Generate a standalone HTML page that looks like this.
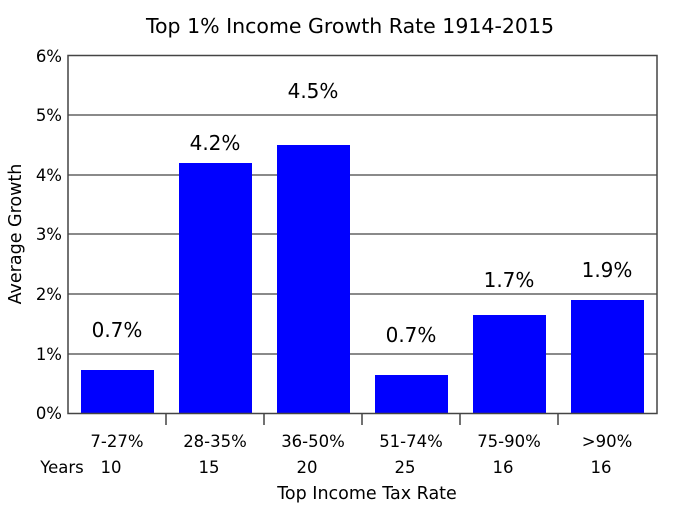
<!DOCTYPE html>
<html><head><meta charset="utf-8"><style>body{margin:0;background:#fff}</style></head><body>
<svg width="683" height="512" xmlns="http://www.w3.org/2000/svg" font-family="DejaVu Sans, Liberation Sans, sans-serif" fill="#000">
<rect width="683" height="512" fill="#fff"/>
<text x="350" y="33" font-size="20.5" text-anchor="middle">Top 1% Income Growth Rate 1914-2015</text>
<g stroke="#444" stroke-width="1.3">
<line x1="68" y1="115" x2="657" y2="115"/><line x1="68" y1="175" x2="657" y2="175"/>
<line x1="68" y1="234" x2="657" y2="234"/><line x1="68" y1="294" x2="657" y2="294"/>
<line x1="68" y1="354" x2="657" y2="354"/>
</g>
<g fill="#0000ff">
<rect x="81" y="370" width="73" height="43.5"/>
<rect x="179" y="163" width="73" height="250.5"/>
<rect x="277" y="145" width="73" height="268.5"/>
<rect x="375" y="375" width="73" height="38.5"/>
<rect x="473" y="315" width="73" height="98.5"/>
<rect x="571" y="300" width="73" height="113.5"/>
</g>
<g fill="none" stroke="#444" stroke-width="1.5">
<rect x="68" y="55.5" width="589" height="358"/>
<path d="M166 413v12M264 413v12M362 413v12M460 413v12M558 413v12"/>
</g>
<g font-size="16.5" text-anchor="end">
<text x="62" y="62">6%</text><text x="62" y="121">5%</text><text x="62" y="181">4%</text>
<text x="62" y="240">3%</text><text x="62" y="300">2%</text><text x="62" y="360">1%</text><text x="62" y="419">0%</text>
</g>
<g font-size="20" text-anchor="middle">
<text x="117" y="337">0.7%</text><text x="215" y="150">4.2%</text><text x="313" y="98">4.5%</text>
<text x="411" y="342">0.7%</text><text x="509" y="287">1.7%</text><text x="607" y="277">1.9%</text>
</g>
<g font-size="16.5" text-anchor="middle">
<text x="117" y="447">7-27%</text><text x="215" y="447">28-35%</text><text x="313" y="447">36-50%</text>
<text x="411" y="447">51-74%</text><text x="509" y="447">75-90%</text><text x="607" y="447">&gt;90%</text>
<text x="111" y="473">10</text><text x="209" y="473">15</text><text x="307" y="473">20</text>
<text x="405" y="473">25</text><text x="503" y="473">16</text><text x="601" y="473">16</text>
<text x="62" y="473">Years</text>
<text x="367" y="499" font-size="17.5">Top Income Tax Rate</text>
<text transform="translate(21,234) rotate(-90)" font-size="17.5">Average Growth</text>
</g>
</svg>
</body></html>
